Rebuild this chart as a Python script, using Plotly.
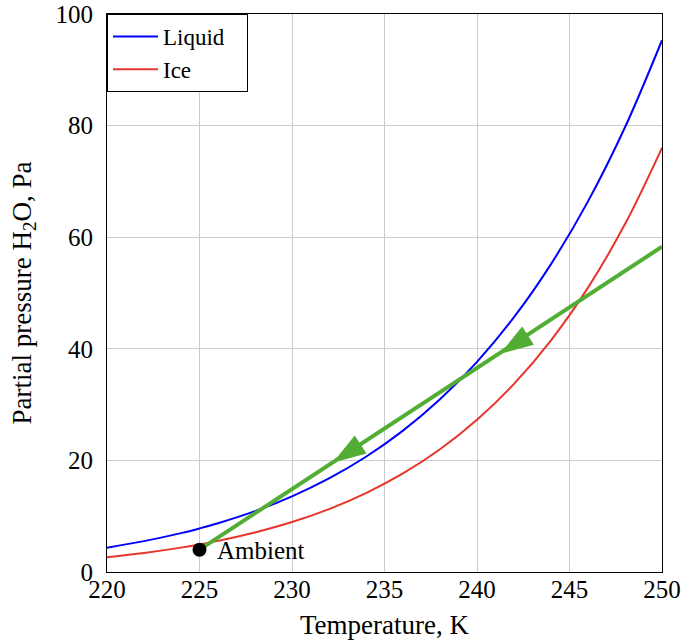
import plotly.graph_objects as go

# Data
temp = [220, 222, 224, 225, 226, 228, 230, 232, 234, 236, 238, 240, 242, 244, 246, 248, 250]
p_liquid = [4.36, 5.53, 6.97, 7.81, 8.74, 10.91, 13.56, 16.77, 20.65, 25.33, 30.95, 37.66, 45.66, 55.18, 66.42, 79.70, 95.30]
p_ice = [2.66, 3.42, 4.37, 4.94, 5.58, 7.08, 8.95, 11.27, 14.14, 17.66, 21.99, 27.27, 33.71, 41.52, 50.96, 62.35, 76.02]

path_x = [225, 250]
path_y = [4.0, 58.3]
arrow_x = [232.2, 241.25]
arrow_y = [19.6, 39.1]
ambient_x = [225]
ambient_y = [4.0]

FONT = "Liberation Serif"
TICK_SIZE = 25
TITLE_SIZE = 27

fig = go.Figure()
fig.add_trace(go.Scatter(x=temp, y=p_liquid, mode="lines", name="Liquid\u00a0\u00a0\u00a0",
                         line=dict(color="#0000ff", width=2, shape="spline")))
fig.add_trace(go.Scatter(x=temp, y=p_ice, mode="lines", name="Ice",
                         line=dict(color="#e8352b", width=2, shape="spline")))
fig.add_trace(go.Scatter(x=path_x, y=path_y, mode="lines", showlegend=False,
                         line=dict(color="#52ad35", width=4)))
fig.add_trace(go.Scatter(x=arrow_x, y=arrow_y, mode="markers", showlegend=False,
                         marker=dict(symbol="arrow", size=35, angle=237, color="#52ad35",
                                     line=dict(width=0))))
fig.add_trace(go.Scatter(x=ambient_x, y=ambient_y, mode="markers", showlegend=False,
                         marker=dict(size=14, color="black")))

fig.add_annotation(x=ambient_x[0], y=ambient_y[0], text="Ambient", showarrow=False,
                   xanchor="left", yanchor="middle", xshift=15, yshift=-1,
                   font=dict(family=FONT, size=TICK_SIZE, color="black"))

axis_common = dict(showgrid=True, gridcolor="#cccccc", gridwidth=1,
                   showline=True, linecolor="black", linewidth=1, mirror=True,
                   ticks="", zeroline=False, automargin=False,
                   tickfont=dict(family=FONT, size=TICK_SIZE, color="black"))

fig.update_xaxes(range=[220, 250], tickvals=[220, 225, 230, 235, 240, 245, 250],
                 ticklabelstandoff=-5,
                 title=dict(text="Temperature, K", font=dict(family=FONT, size=TITLE_SIZE, color="black"), standoff=13),
                 **axis_common)
fig.update_yaxes(range=[0, 100], tickvals=[0, 20, 40, 60, 80, 100],
                 ticklabelstandoff=8,
                 title=dict(text="Partial pressure H<sub>2</sub>O, Pa", font=dict(family=FONT, size=TITLE_SIZE, color="black"), standoff=16),
                 **axis_common)

fig.update_layout(
    width=683, height=643,
    margin=dict(l=107, r=21, t=14, b=71),
    plot_bgcolor="white", paper_bgcolor="white",
    font=dict(family=FONT, size=TICK_SIZE, color="black"),
    legend=dict(x=0, y=1, xanchor="left", yanchor="top",
                bordercolor="black", borderwidth=1, bgcolor="white",
                itemwidth=45,
                font=dict(family=FONT, size=23), tracegroupgap=0),
)

# remove the browser's default 8px body margin so the figure sits at the page origin
fig.write_html("out.html", config={"displayModeBar": False},
               post_script="document.body.style.margin='0';")
